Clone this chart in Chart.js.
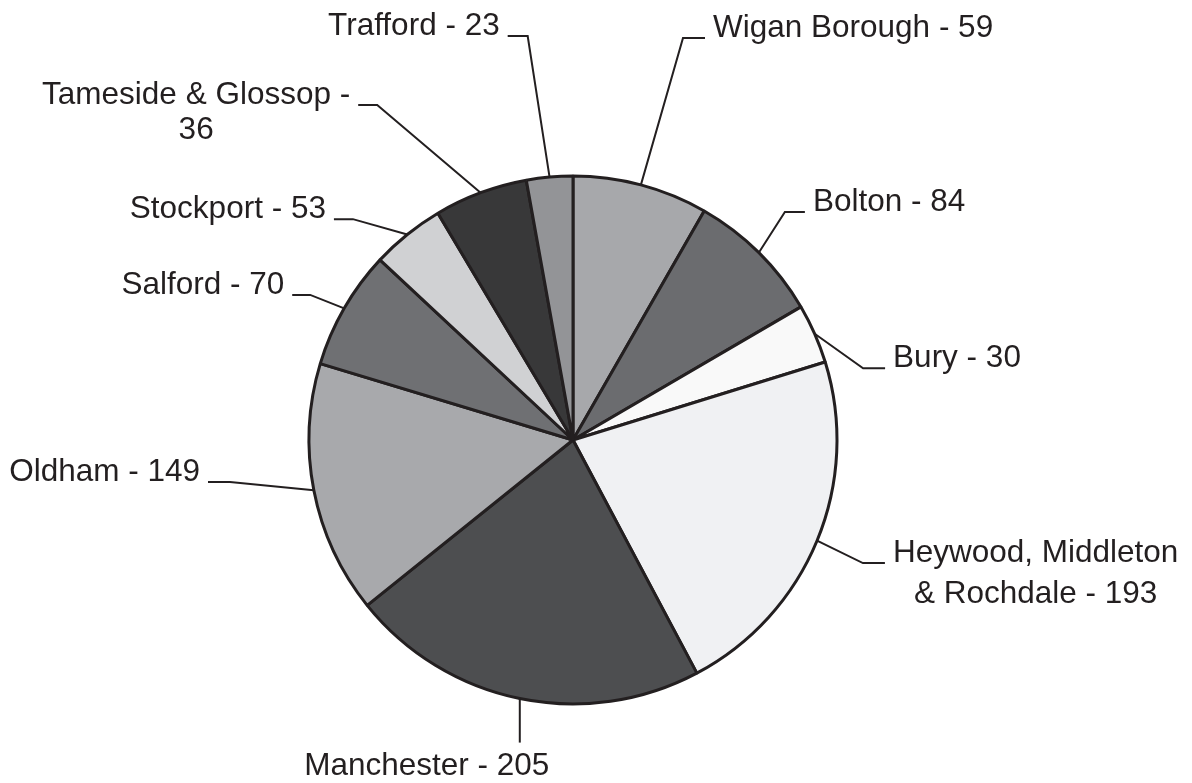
<!DOCTYPE html>
<html><head><meta charset="utf-8">
<script src="https://cdn.jsdelivr.net/npm/chart.js@4.4.1/dist/chart.umd.min.js"></script>
<style>html,body{margin:0;padding:0;background:#fff}canvas{display:block}</style>
</head><body>
<canvas id="c" width="1192" height="783"></canvas>
<script>
// ---- data ----
const categories = ["Wigan Borough","Bolton","Bury","Heywood, Middleton & Rochdale","Manchester","Oldham","Salford","Stockport","Tameside & Glossop","Trafford"];
const labelCounts = [59,84,30,193,205,149,70,53,36,23];
// slice sizes (percent of the circle)
const sliceShares = [8.28,8.31,3.64,22.0,22.0,15.44,7.28,4.5,5.72,2.83];
const sliceColors = ["#a7a8ab","#6b6c6f","#f9f9f9","#f0f1f3","#4d4e50","#a8a9ac","#6f7073","#d0d1d3","#383839","#939497"];

// ---- label layout (elbow position as angle clockwise from top, radius factor) ----
const labelLayout = [
  {ang:15.3,  f:1.579, side:'right', seg:22},
  {ang:42.9,  f:1.179, side:'right', seg:20},
  {ang:76.1,  f:1.132, side:'right', seg:22},
  {ang:113.0, f:1.193, side:'right', seg:22, wrap:2, lineGap:41},
  {side:'below', drop:44, dx:-93, gap:32},
  {ang:263.0, f:1.309, side:'left', seg:22},
  {ang:298.9, f:1.137, side:'left', seg:18},
  {ang:315.1, f:1.181, side:'left', seg:19},
  {ang:329.7, f:1.470, side:'left', seg:19, wrap:4, lineGap:35},
  {ang:353.6, f:1.540, side:'left', seg:20}
];
const INK = '#231f20';
const FONT = '31.5px "Liberation Sans", Arial, Helvetica, sans-serif';

function labelLines(i){
  const txt = categories[i] + ' - ' + labelCounts[i];
  const L = labelLayout[i];
  if (!L.wrap) return [txt];
  const w = txt.split(' ');
  return [w.slice(0, L.wrap).join(' '), w.slice(L.wrap).join(' ')];
}

const leaderPlugin = {
  id: 'leaders',
  afterDraw(chart){
    const ctx = chart.ctx;
    const meta = chart.getDatasetMeta(0);
    ctx.save();
    ctx.strokeStyle = INK; ctx.fillStyle = INK; ctx.lineWidth = 2;
    ctx.font = FONT; ctx.textBaseline = 'alphabetic';
    meta.data.forEach((arc, i) => {
      const p = arc.getProps(['x','y','startAngle','endAngle','outerRadius'], true);
      const mid = (p.startAngle + p.endAngle) / 2;
      const ax = p.x + p.outerRadius * Math.cos(mid);
      const ay = p.y + p.outerRadius * Math.sin(mid);
      const L = labelLayout[i];
      const lines = labelLines(i);
      if (L.side === 'below') {
        const ey = ay + L.drop;
        ctx.beginPath(); ctx.moveTo(ax, ay); ctx.lineTo(ax, ey); ctx.stroke();
        ctx.textAlign = 'center';
        ctx.fillText(lines[0], ax + L.dx, ey + L.gap);
        return;
      }
      const a = L.ang * Math.PI / 180 - Math.PI / 2;
      const ex = p.x + L.f * p.outerRadius * Math.cos(a);
      const ey = p.y + L.f * p.outerRadius * Math.sin(a);
      const dir = L.side === 'right' ? 1 : -1;
      const sx = ex + dir * L.seg;
      ctx.beginPath(); ctx.moveTo(ax, ay); ctx.lineTo(ex, ey); ctx.lineTo(sx, ey); ctx.stroke();
      const widths = lines.map(t => ctx.measureText(t).width);
      const bw = Math.max(...widths);
      const left = dir > 0 ? sx + 8 : sx - 8 - bw;
      ctx.textAlign = 'center';
      lines.forEach((t, k) => {
        ctx.fillText(t, left + bw / 2, ey - 1 + k * (L.lineGap || 0));
      });
    });
    ctx.restore();
  }
};

new Chart(document.getElementById('c'), {
  type: 'pie',
  data: {
    labels: categories,
    datasets: [{
      data: sliceShares,
      backgroundColor: sliceColors,
      borderColor: INK,
      borderWidth: 3,
      hoverBorderWidth: 3,
      hoverOffset: 0,
      offset: 0
    }]
  },
  options: {
    responsive: false,
    animation: false,
    events: [],
    layout: { padding: { left: 0, right: 46, top: 174.5, bottom: 77.5 } },
    plugins: { legend: { display: false }, tooltip: { enabled: false } }
  },
  plugins: [leaderPlugin]
});
</script>
</body></html>
